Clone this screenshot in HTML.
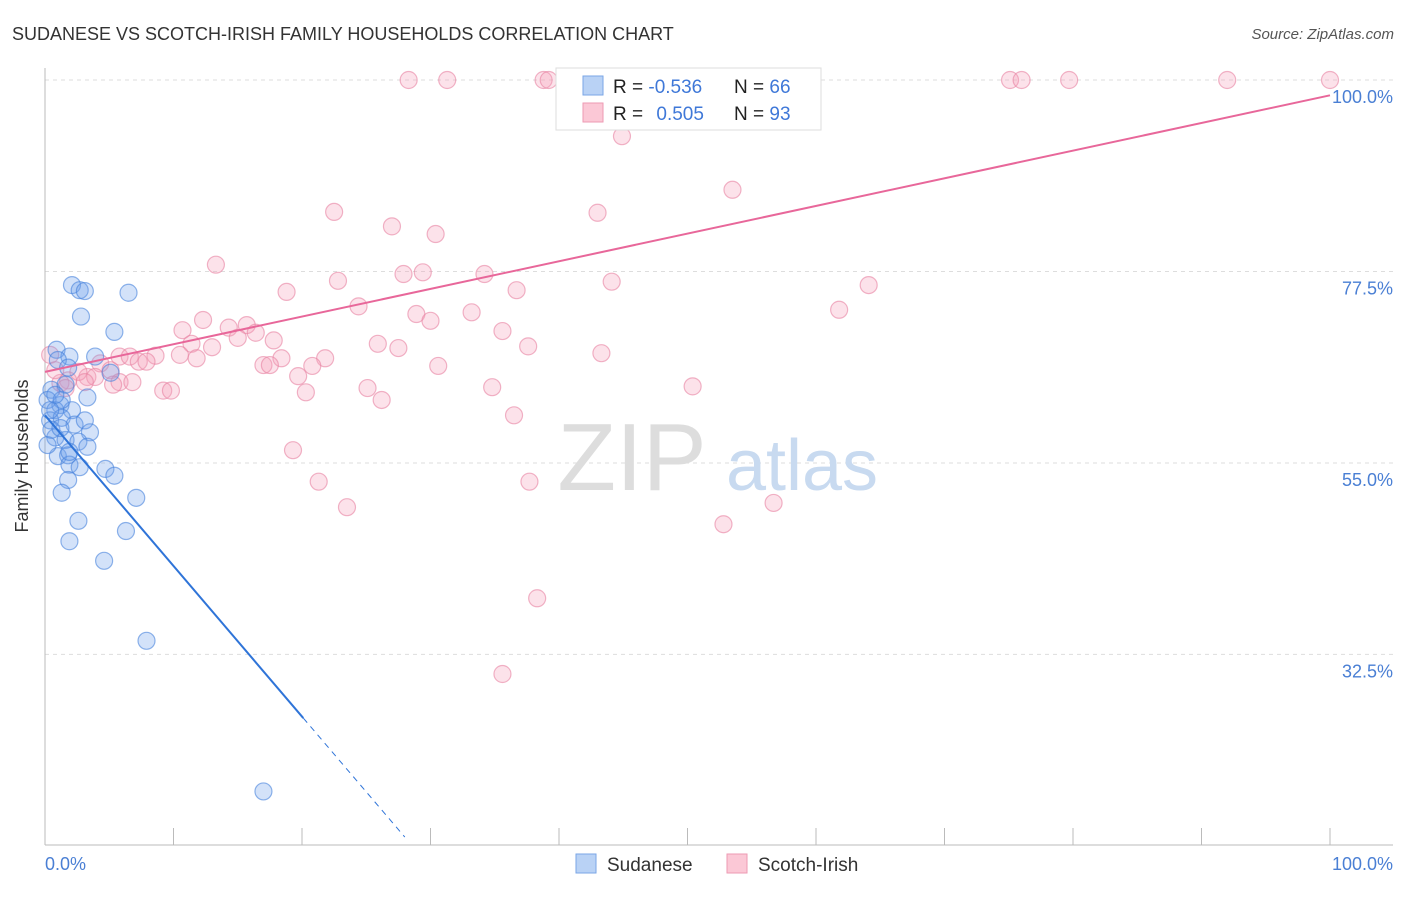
<!DOCTYPE html>
<html><head><meta charset="utf-8"><style>
body{margin:0;background:#fff;font-family:"Liberation Sans",sans-serif}
svg text{font-family:"Liberation Sans",sans-serif}
</style></head><body>
<svg id="chart" width="1406" height="892" xmlns="http://www.w3.org/2000/svg">
<text x="12" y="40" font-size="18" fill="#333">SUDANESE VS SCOTCH-IRISH FAMILY HOUSEHOLDS CORRELATION CHART</text>
<text x="1394" y="39" font-size="15" fill="#555" text-anchor="end" font-style="italic">Source: ZipAtlas.com</text>
<g id="grid"></g>
<g>
<text x="632" y="490" font-size="96" fill="#ddd" font-family="Liberation Serif" text-anchor="middle">ZIP</text>
<text x="802" y="490" font-size="72" fill="#c8daf0" text-anchor="middle">atlas</text>
</g>
<g id="axes"></g>
<g id="pts"></g>
<g id="lines"></g>
<text x="28" y="456" font-size="18" fill="#333" text-anchor="middle" transform="rotate(-90 28 456)">Family Households</text>
<text x="45" y="870" font-size="18" fill="#4a7fd4">0.0%</text>
<text x="1393" y="870" font-size="18" fill="#4a7fd4" text-anchor="end">100.0%</text>
<g>
<rect x="556" y="68" width="265" height="62" fill="#fff" stroke="#ddd"/>
<rect x="583" y="76" width="20" height="19" fill="#b9d2f5" stroke="#7aa6e6"/>
<rect x="583" y="103" width="20" height="19" fill="#fbc8d6" stroke="#ee9ab3"/>
<text x="613" y="93" font-size="19" fill="#222">R = <tspan fill="#3f78d8">-0.536</tspan></text>
<text x="734" y="93" font-size="19" fill="#222">N = <tspan fill="#3f78d8">66</tspan></text>
<text x="613" y="120" font-size="19" fill="#222">R = <tspan fill="#3f78d8" dx="8">0.505</tspan></text>
<text x="734" y="120" font-size="19" fill="#222">N = <tspan fill="#3f78d8">93</tspan></text>
</g>
<g>
<rect x="576" y="854" width="20" height="19" fill="#b9d2f5" stroke="#7aa6e6"/>
<text x="607" y="871" font-size="19" fill="#333">Sudanese</text>
<rect x="727" y="854" width="20" height="19" fill="#fbc8d6" stroke="#ee9ab3"/>
<text x="758" y="871" font-size="19" fill="#333">Scotch-Irish</text>
</g>
</svg>
<script>
const yTicks=[100,77.5,55,32.5];
const yTickLabels=["100.0%","77.5%","55.0%","32.5%"];
const xTicks=[0,10,20,30,40,50,60,70,80,90,100];
const blueX=[2.1,2.7,3.1,6.5,2.8,5.4,0.9,1.9,3.9,1.0,1.8,5.1,3.3,0.5,0.2,1.2,0.8,2.1,0.4,1.3,2.3,3.1,3.5,0.8,1.6,2.6,3.3,1.0,1.8,1.9,2.7,4.7,5.4,1.8,1.3,7.1,2.6,6.3,1.9,4.6,7.9,17.0,0.2,0.5,1.3,1.6,0.8,0.4,1.2,1.9];
const blueY=[75.9,75.3,75.2,75.0,72.2,70.4,68.3,67.5,67.5,67.1,66.2,65.6,62.7,63.6,62.4,61.8,61.2,61.2,60.0,60.3,59.5,60.0,58.6,58.0,57.7,57.5,56.9,55.8,55.9,54.8,54.5,54.3,53.5,53.0,51.5,50.9,48.2,47.0,45.8,43.5,34.1,16.4,57.1,58.9,62.4,64.2,63.0,61.2,59.1,56.3];
const pinkX=[28.3,31.3,38.8,39.2,40.6,48.9,49.9,56.0,75.1,76.0,79.7,92.0,100,44.9,53.5,22.5,43.0,27.0,30.4,13.3,27.9,29.4,34.2,22.8,44.1,36.7,18.8,64.1,24.4,12.3,28.9,30.0,33.2,61.8,10.7,14.3,15.7,15.0,16.4,35.6,17.8,37.6,25.9,27.5,13.0,11.4,43.3,8.6,5.8,6.6,10.5,11.8,21.8,18.4,7.3,7.9,17.0,17.5,20.8,30.6,4.3,5.1,3.3,3.9,19.7,5.8,6.8,1.8,1.2,1.6,5.3,9.2,9.8,20.3,25.1,34.8,50.4,26.2,36.5,19.3,21.3,37.7,23.5,56.7,52.8,38.3,35.6,0.4,0.8,2.6,3.1];
const pinkY=[100,100,100,100,100,100,100,100,100,100,100,100,100,93.4,87.1,84.5,84.4,82.8,81.9,78.3,77.2,77.4,77.2,76.4,76.3,75.3,75.1,75.9,73.4,71.8,72.5,71.7,72.7,73.0,70.6,70.9,71.2,69.7,70.3,70.5,69.4,68.7,69.0,68.5,68.6,69.0,67.9,67.6,67.5,67.5,67.7,67.3,67.3,67.3,66.9,66.9,66.5,66.5,66.4,66.4,66.7,65.9,65.1,65.1,65.2,64.5,64.5,64.7,64.4,63.8,64.2,63.5,63.5,63.3,63.8,63.9,64.0,62.4,60.6,56.5,52.8,52.8,49.8,50.3,47.8,39.1,30.2,67.7,65.9,65.7,64.5];
const blueTrend=[60.6,-1.77];
const pinkTrend=[65.7,0.325];
const X=v=>45+v*12.85, Y=v=>80+(100-v)*8.51;
const NS="http://www.w3.org/2000/svg";
function mk(t,a,p){const e=document.createElementNS(NS,t);for(const k in a)e.setAttribute(k,a[k]);p.appendChild(e);return e;}
const grid=document.getElementById('grid'),axes=document.getElementById('axes'),pts=document.getElementById('pts'),lines=document.getElementById('lines'),svg=document.getElementById('chart');
yTicks.forEach((t,i)=>{
 const l=mk('line',{x1:45,x2:1393,y1:Y(t),y2:Y(t),stroke:'#ddd','stroke-dasharray':'4,4'},grid);
 
 
 const tx=mk('text',{x:1393,y:Y(t)+23,'font-size':18,fill:'#4a7fd4','text-anchor':'end'},svg);
 tx.textContent=yTickLabels[i];
 
 
});
const ax1=mk('line',{x1:45,x2:45,y1:68,y2:845,stroke:'#bbb'},axes);


const ax2=mk('line',{x1:45,x2:1393,y1:845,y2:845,stroke:'#bbb'},axes);


xTicks.forEach(t=>{
 const l=mk('line',{x1:X(t),x2:X(t),y1:828,y2:845,stroke:'#bbb'},axes);
 
 
});
pinkX.forEach((x,i)=>{
 const c=mk('circle',{cx:X(x),cy:Y(pinkY[i]),r:8.5,fill:'rgba(245,160,185,0.3)',stroke:'rgba(232,130,162,0.6)','stroke-width':1.2},pts);
 
 
});
blueX.forEach((x,i)=>{
 const c=mk('circle',{cx:X(x),cy:Y(blueY[i]),r:8.5,fill:'rgba(110,160,235,0.3)',stroke:'rgba(70,130,220,0.6)','stroke-width':1.2},pts);
 
 
});
const bt=x=>blueTrend[0]+blueTrend[1]*x, pt=x=>pinkTrend[0]+pinkTrend[1]*x;
const b1=mk('line',{x1:X(0),y1:Y(bt(0)),x2:X(20.1),y2:Y(bt(20.1)),stroke:'#2f74d8','stroke-width':2},lines);


const b2=mk('line',{x1:X(20.1),y1:Y(bt(20.1)),x2:X(28),y2:Y(bt(28)),stroke:'#2f74d8','stroke-width':1,'stroke-dasharray':'6,5'},lines);


const p1=mk('line',{x1:X(0),y1:Y(pt(0)),x2:X(100),y2:Y(pt(100)),stroke:'#e8679a','stroke-width':2},lines);


</script>
</body></html>
